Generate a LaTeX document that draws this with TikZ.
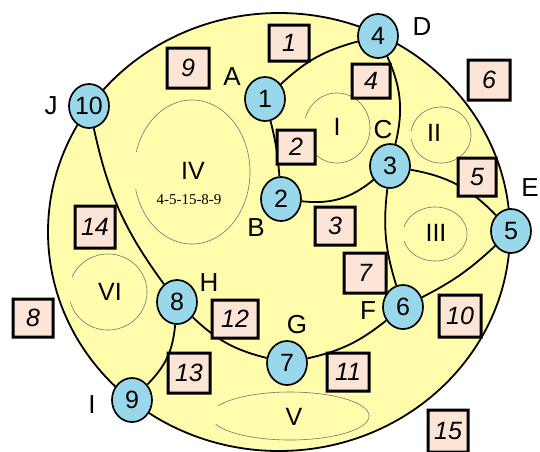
\documentclass[tikz,border=0pt]{standalone}
\usepackage{fontspec}
\setmainfont{Liberation Sans}
\newfontfamily\serifnum{Liberation Serif}
\usetikzlibrary{shapes.geometric}
\definecolor{ylw}{RGB}{255,252,172}
\definecolor{nblue}{RGB}{152,216,234}
\definecolor{npink}{RGB}{252,228,214}
\newcommand\gapell[6]{\draw[thinell] plot[domain=#5:#6,samples=120,smooth] ({#1+#3*cos(\x)},{#2+#4*sin(\x)});}
\tikzset{
  vnode/.style={ellipse, draw=black, line width=1.7pt, fill=nblue, minimum width=40pt, minimum height=44pt, inner sep=0pt, font=\fontsize{25}{25}\selectfont},
  sq/.style={rectangle, fill=npink, outer sep=0pt, minimum width=40pt, minimum height=38pt, inner sep=0pt, font=\fontsize{25}{25}\selectfont\itshape},
  sqframe/.style={fill=black, even odd rule},
  lbl/.style={inner sep=0pt, font=\fontsize{26}{26}\selectfont},
  rom/.style={inner sep=0pt, font=\fontsize{25}{25}\selectfont},
  conn/.style={line width=1.8pt, draw=black},
  thinell/.style={draw=black!55, line width=0.6pt},
}
\begin{document}
\begin{tikzpicture}[x=1pt, y=-1pt]
\useasboundingbox (0,0) rectangle (540,451);
% outer region
\path[fill=ylw, draw=black, line width=1.8pt] (279,232) ellipse [x radius=231pt, y radius=219pt];
% inner thin ellipses
\gapell{337}{128}{33}{35}{197}{520}
\gapell{441}{135}{30}{28}{188}{532}
\gapell{435}{234}{32}{27}{195}{525}
\gapell{192}{172}{58}{72}{196}{526}
\gapell{290}{416}{79}{24}{205}{520}
\gapell{108}{292}{39}{38}{203}{525}
\node[rom] (rI) at (337,127) {I};
\node[rom] (rII) at (434,133) {II};
\node[rom] (rIII) at (436,233) {III};
\node[rom] (rIV) at (193,171) {IV};
\node[inner sep=0pt, font=\serifnum\fontsize{15}{15}\selectfont] (seq) at (189,200) {4-5-15-8-9};
\node[rom] (rV) at (294,417) {V};
\node[rom] (rVI) at (110,292) {VI};
% vertices
\node[vnode] (n1) at (265,99) {1};
\node[vnode] (n2) at (281,199) {2};
\node[vnode] (n3) at (390,166) {3};
\node[vnode] (n4) at (378,36) {4};
\node[vnode] (n5) at (511,231) {5};
\node[vnode] (n6) at (403,307) {6};
\node[vnode] (n7) at (287,363) {7};
\node[vnode] (n8) at (177,302) {8};
\node[vnode] (n9) at (132,400) {9};
\node[vnode] (n10) at (89,106) {10};
% connectors
\draw[conn] (n1) to[bend left=14] (n4);
\draw[conn] (n1) to[bend left=5] (n2);
\draw[conn] (n2) to[bend right=23] (n3);
\draw[conn] (n4) to[bend left=19] (n3);
\draw[conn] (n3) to[bend left=18] (n5);
\draw[conn] (n3) to[bend right=12] (n6);
\draw[conn] (n6) to[bend right=8] (n5);
\draw[conn] (n7) to[bend right=13] (n6);
\draw[conn] (n8) to[bend right=15] (n7);
\draw[conn] (n10) to[bend right=12] (n8);
\draw[conn] (n8) to[bend left=20] (n9);
% squares
\node[sq, minimum height=36pt] (s1) at (289,43) {1};
\node[sq, minimum width=38pt, minimum height=34pt] (s2) at (296,147) {2};
\node[sq] (s3) at (335,226) {3};
\node[sq, minimum width=38pt, minimum height=34pt] (s4) at (371,81) {4};
\node[sq, minimum width=38pt] (s5) at (477,177) {5};
\node[sq, minimum width=42pt, minimum height=40pt] (s6) at (489,80) {6};
\node[sq, minimum width=42pt, minimum height=40pt] (s7) at (365,273) {7};
\node[sq] (s8) at (33,318) {8};
\node[sq, minimum width=42pt, minimum height=40pt] (s9) at (188,68) {9};
\node[sq, minimum width=42pt, minimum height=42pt] (s10) at (460,316) {10};
\node[sq, minimum width=42pt] (s11) at (348,372) {11};
\node[sq, minimum width=46pt] (s12) at (235,319) {12};
\node[sq, minimum width=42pt, minimum height=40pt] (s13) at (189,373) {13};
\node[sq, minimum height=42pt] (s14) at (95,227) {14};
\node[sq, minimum height=42pt] (s15) at (448,431) {15};
\foreach \s in {s1,s2,s3,s4,s5,s6,s7,s8,s9,s10,s11,s12,s13,s14,s15}
  \fill[sqframe] ([xshift=-1.5pt,yshift=1.5pt]\s.north west) rectangle ([xshift=1.5pt,yshift=-1.5pt]\s.south east)
                 ([xshift=1.5pt,yshift=-1.5pt]\s.north west) rectangle ([xshift=-1.5pt,yshift=1.5pt]\s.south east);
% letters
\node[lbl] (A) at (232,77) {A};
\node[lbl] (B) at (256,228) {B};
\node[lbl] (C) at (383,130) {C};
\node[lbl] (D) at (422,27) {D};
\node[lbl] (E) at (530,188) {E};
\node[lbl] (F) at (368,311) {F};
\node[lbl] (G) at (297,325) {G};
\node[lbl] (H) at (209,283) {H};
\node[lbl] (I) at (92,405) {I};
\node[lbl] (J) at (51,106) {J};
\end{tikzpicture}
\end{document}
